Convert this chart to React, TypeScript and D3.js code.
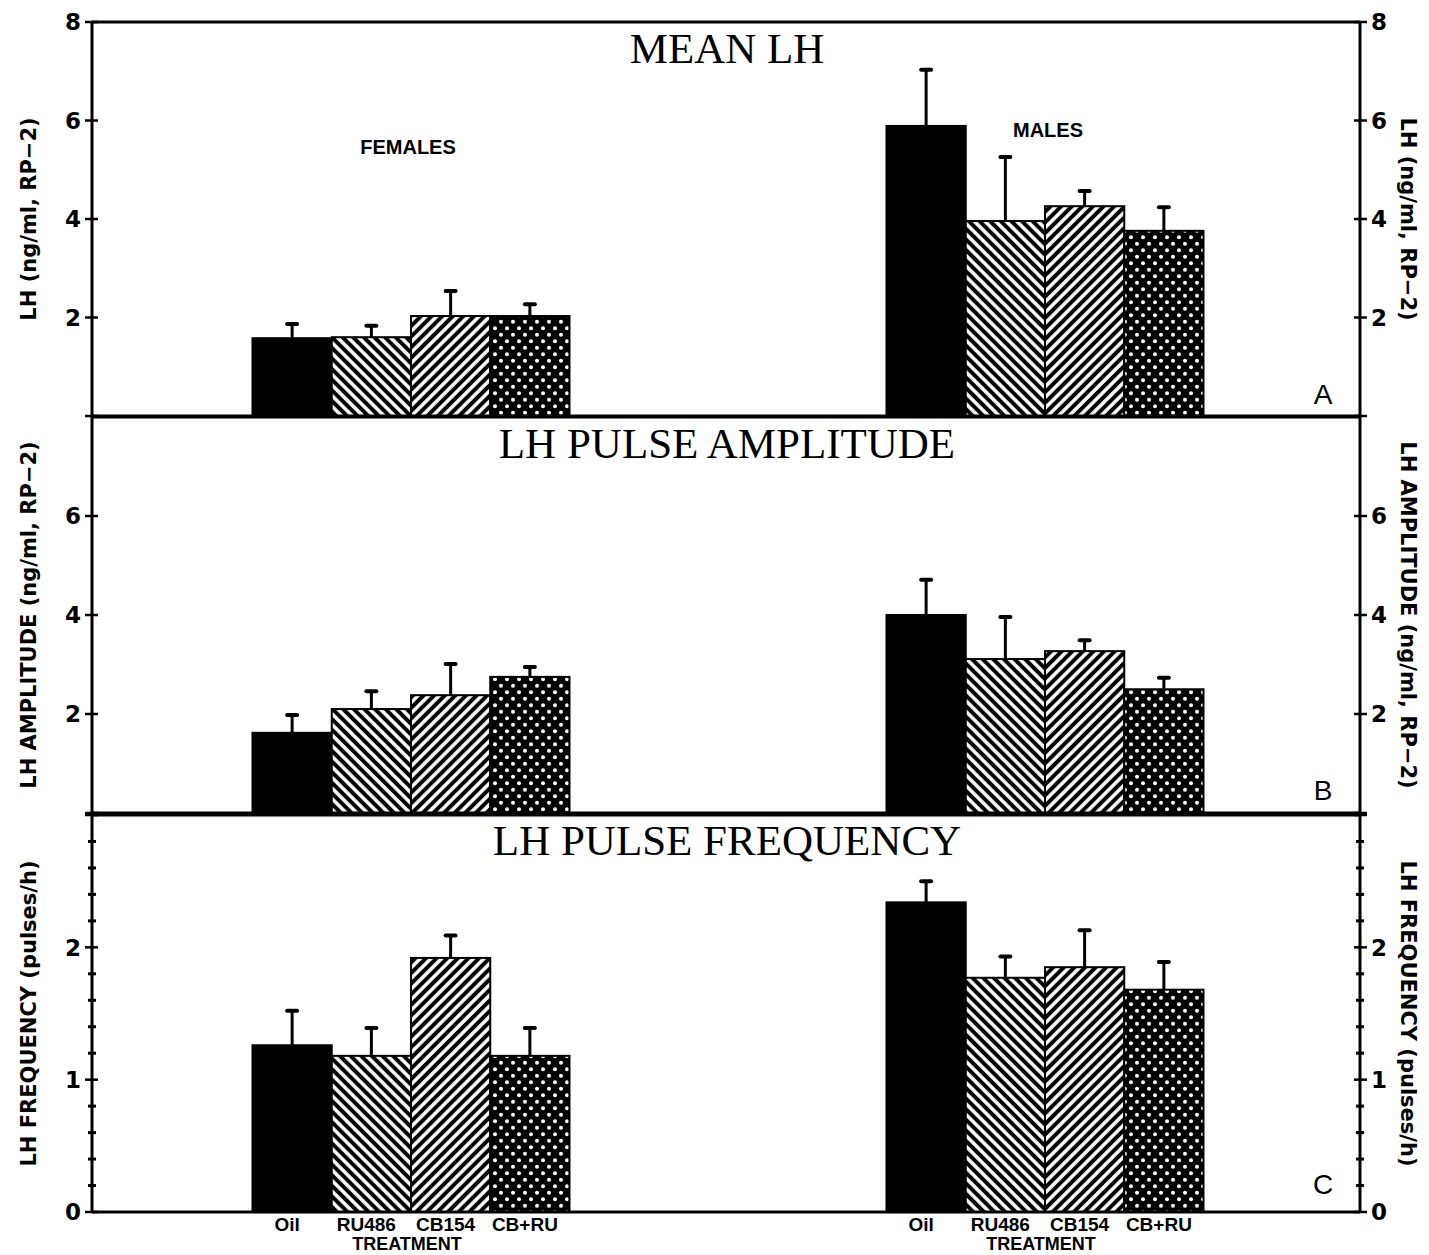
import React from "react";
import * as d3 from "d3";

const treatments = ["Oil", "RU486", "CB154", "CB+RU"];
const groups = ["FEMALES", "MALES"];

const meanFemales = [1.58, 1.6, 2.03, 2.03];
const meanFemalesErr = [0.29, 0.23, 0.51, 0.24];
const meanMales = [5.89, 3.96, 4.26, 3.76];
const meanMalesErr = [1.14, 1.3, 0.31, 0.48];

const ampFemales = [1.62, 2.1, 2.38, 2.75];
const ampFemalesErr = [0.36, 0.36, 0.63, 0.2];
const ampMales = [4.0, 3.11, 3.27, 2.5];
const ampMalesErr = [0.71, 0.85, 0.22, 0.23];

const freqFemales = [1.26, 1.18, 1.92, 1.18];
const freqFemalesErr = [0.26, 0.21, 0.17, 0.21];
const freqMales = [2.34, 1.77, 1.85, 1.68];
const freqMalesErr = [0.16, 0.16, 0.28, 0.21];

const meanTickLabels = [2, 4, 6, 8];
const ampTickLabels = [2, 4, 6];
const freqTickLabels = [0, 1, 2];

const fills = ["#000", "url(#hatchBack)", "url(#hatchFwd)", "url(#dots)"];

const SANS_B = "'DejaVu Sans', sans-serif";
const SANS = "'Liberation Sans', Arial, sans-serif";
const SERIF = "'Liberation Serif', 'Times New Roman', serif";

const X0 = 92;
const X1 = 1360;

export default function App() {
  const gx = d3.scaleBand<string>().domain(groups).range([94, 1362]).paddingInner(0.5).paddingOuter(0.25);
  const tx = d3.scaleBand<string>().domain(treatments).range([0, gx.bandwidth()]);

  const panels = [
    {
      key: "A",
      title: "MEAN LH",
      titleY: 63,
      y: d3.scaleLinear().domain([0, 8]).range([416, 22]),
      majors: [0, 2, 4, 6, 8],
      labels: meanTickLabels,
      minors: [] as number[],
      data: [[meanFemales, meanFemalesErr], [meanMales, meanMalesErr]],
      yLabel: "LH (ng/ml, RP\u22122)",
      rLabel: "LH (ng/ml, RP\u22122)",
      letterY: 404,
    },
    {
      key: "B",
      title: "LH PULSE AMPLITUDE",
      titleY: 458,
      y: d3.scaleLinear().domain([0, 8]).range([813, 417]),
      majors: [0, 2, 4, 6],
      labels: ampTickLabels,
      minors: [] as number[],
      data: [[ampFemales, ampFemalesErr], [ampMales, ampMalesErr]],
      yLabel: "LH AMPLITUDE (ng/ml, RP\u22122)",
      rLabel: "LH AMPLITUDE (ng/ml, RP\u22122)",
      letterY: 800,
    },
    {
      key: "C",
      title: "LH PULSE FREQUENCY",
      titleY: 855,
      y: d3.scaleLinear().domain([0, 3]).range([1212, 815]),
      majors: [0, 1, 2, 3],
      labels: freqTickLabels,
      minors: d3.range(0, 15).map((i) => i * 0.2).filter((v) => Math.abs(v - Math.round(v)) > 1e-6),
      data: [[freqFemales, freqFemalesErr], [freqMales, freqMalesErr]],
      yLabel: "LH FREQUENCY (pulses/h)",
      rLabel: "LH FREQUENCY (pulses/h)",
      letterY: 1194,
    },
  ];

  return (
    <svg
      width={1429}
      height={1255}
      style={{ position: "absolute", left: 0, top: 0, background: "#fff" }}
    >
      <defs>
        <pattern id="hatchBack" width={7.5} height={7.5} patternUnits="userSpaceOnUse" patternTransform="rotate(-45)">
          <rect width={7.5} height={7.5} fill="#fff" />
          <line x1={3.75} y1={-1} x2={3.75} y2={8.5} stroke="#000" strokeWidth={4} />
        </pattern>
        <pattern id="hatchFwd" width={7.5} height={7.5} patternUnits="userSpaceOnUse" patternTransform="rotate(45)">
          <rect width={7.5} height={7.5} fill="#fff" />
          <line x1={3.75} y1={-1} x2={3.75} y2={8.5} stroke="#000" strokeWidth={4} />
        </pattern>
        <pattern id="dots" width={12} height={13} patternUnits="userSpaceOnUse">
          <rect width={12} height={13} fill="#000" />
          <circle cx={3} cy={3.25} r={2} fill="#fff" />
          <circle cx={9} cy={9.75} r={2} fill="#fff" />
        </pattern>
      </defs>

      {panels.map((p) => {
        const [yb, yt] = p.y.range();
        const cy = (yb + yt) / 2;
        return (
          <g key={p.key}>
            {groups.map((g, gi) => {
              const [vals, errs] = p.data[gi];
              return treatments.map((t, ti) => {
                const x = (gx(g) as number) + (tx(t) as number);
                const w = tx.bandwidth();
                const v = vals[ti];
                const e = errs[ti];
                const cx = x + w / 2;
                return (
                  <g key={g + t}>
                    <line x1={cx} x2={cx} y1={p.y(v)} y2={p.y(v + e)} stroke="#000" strokeWidth={3} />
                    <line x1={cx - 5} x2={cx + 5} y1={p.y(v + e)} y2={p.y(v + e)} stroke="#000" strokeWidth={4} strokeLinecap="round" />
                    <rect x={x} y={p.y(v)} width={w} height={p.y(0) - p.y(v)} fill={fills[ti]} stroke="#000" strokeWidth={2} />
                  </g>
                );
              });
            })}
            <line x1={X0} x2={X1} y1={yb} y2={yb} stroke="#000" strokeWidth={3} />
            <line x1={X0} x2={X1} y1={yt} y2={yt} stroke="#000" strokeWidth={3} />
            <line x1={X0} x2={X0} y1={yt} y2={yb} stroke="#000" strokeWidth={3} />
            <line x1={X1} x2={X1} y1={yt} y2={yb} stroke="#000" strokeWidth={3} />
            {p.majors.map((v) => (
              <g key={"mj" + v}>
                <line x1={X0 - 7} x2={X0 + 6} y1={p.y(v)} y2={p.y(v)} stroke="#000" strokeWidth={2.5} />
                <line x1={X1 - 6} x2={X1 + 7} y1={p.y(v)} y2={p.y(v)} stroke="#000" strokeWidth={2.5} />
              </g>
            ))}
            {p.minors.map((v) => (
              <g key={"mn" + v}>
                <line x1={X0 - 4} x2={X0 + 4} y1={p.y(v)} y2={p.y(v)} stroke="#000" strokeWidth={3} />
                <line x1={X1 - 4} x2={X1 + 4} y1={p.y(v)} y2={p.y(v)} stroke="#000" strokeWidth={3} />
              </g>
            ))}
            {p.labels.map((v) => (
              <g key={"lb" + v} fontFamily={SANS_B} fontWeight="bold" fontSize={23}>
                <text x={X0 - 11} y={p.y(v)} dy="0.36em" textAnchor="end">{v}</text>
                <text x={X1 + 11} y={p.y(v)} dy="0.36em" textAnchor="start">{v}</text>
              </g>
            ))}
            <text
              transform={`translate(36,${cy}) rotate(-90)`}
              textAnchor="middle"
              fontFamily={SANS_B}
              fontWeight="bold"
              fontSize={21}
            >
              {p.yLabel}
            </text>
            <text
              transform={`translate(1401,${cy}) rotate(90)`}
              textAnchor="middle"
              fontFamily={SANS_B}
              fontWeight="bold"
              fontSize={21}
            >
              {p.rLabel}
            </text>
            <text x={727} y={p.titleY} textAnchor="middle" fontFamily={SERIF} fontSize={43}>
              {p.title}
            </text>
            <text x={1323} y={p.letterY} textAnchor="middle" fontFamily={SANS} fontSize={28}>
              {p.key}
            </text>
          </g>
        );
      })}

      <text x={408} y={154} textAnchor="middle" fontFamily={SANS} fontWeight="bold" fontSize={20}>
        FEMALES
      </text>
      <text x={1048} y={137} textAnchor="middle" fontFamily={SANS} fontWeight="bold" fontSize={20}>
        MALES
      </text>

      {groups.map((g) => (
        <g key={"xl" + g} fontFamily={SANS} fontWeight="bold" fontSize={19}>
          {treatments.map((t) => (
            <text
              key={t}
              x={(gx(g) as number) + (tx(t) as number) + tx.bandwidth() / 2 - 5}
              y={1231}
              textAnchor="middle"
            >
              {t}
            </text>
          ))}
          <text x={(gx(g) as number) + gx.bandwidth() / 2 - 4} y={1250} textAnchor="middle" fontSize={18}>
            TREATMENT
          </text>
        </g>
      ))}
    </svg>
  );
}
